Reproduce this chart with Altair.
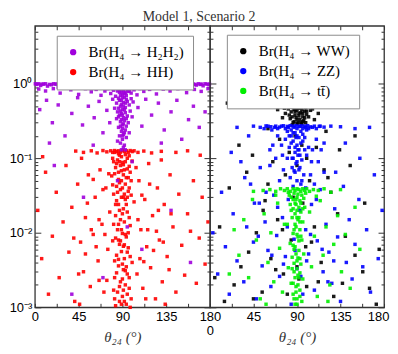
import altair as alt
import pandas as pd

# ---------------- data (theta24 in degrees, branching ratio) ----------------
h2h2_points = [
    (2,0.98),(6,0.95),(9,0.99),(13,0.93),(17,0.97),(21,0.99),(24,0.9),(28,0.96),(32,0.98),(35,0.94),
    (39,0.99),(43,0.92),(46,0.97),(50,0.99),(53,0.95),(57,0.88),(60,0.98),(64,0.96),(67,0.93),(70,0.99),
    (73,0.97),(76,0.94),(79,0.98),(82,0.96),(85,0.99),(88,0.97),(92,0.98),(95,0.95),(98,0.99),(101,0.96),
    (104,0.93),(107,0.98),(110,0.97),(113,0.95),(116,0.99),(119,0.92),(123,0.97),(126,0.99),(130,0.94),(134,0.98),
    (137,0.96),(141,0.9),(144,0.99),(148,0.97),(152,0.95),(155,0.98),(159,0.93),(163,0.99),(166,0.96),(170,0.98),
    (173,0.94),(177,0.99),(179,0.97),
    (0.5,1.0),(4,1.0),(7.5,0.99),(11,1.0),(15,0.98),(19,1.0),(22.5,0.99),(26,1.0),(30,0.98),(33.5,1.0),
    (37,0.99),(41,1.0),(44.5,0.98),(48,1.0),(51.5,0.99),(55,1.0),(58.5,0.97),(62,1.0),(65.5,0.99),(69,1.0),
    (72,0.98),(75,1.0),(78,0.99),(81,1.0),(84,0.98),(87,1.0),(90,0.99),(93.5,1.0),(97,0.98),(100,1.0),
    (103,0.99),(106,1.0),(109,0.98),(112,1.0),(115,0.99),(118,1.0),(121,0.98),(124.5,1.0),(128,0.99),(132,1.0),
    (135.5,0.98),(139,1.0),(142.5,0.99),(146,1.0),(150,0.98),(153.5,1.0),(157,0.99),(161,1.0),(164.5,0.98),(168,1.0),
    (171.5,0.99),(175,1.0),(179.5,0.99),
    (4,0.85),(11,0.8),(19,0.86),(26,0.75),(37,0.83),(45,0.72),(52,0.86),(58,0.78),(63,0.84),(68,0.7),
    (72,0.8),(75,0.86),(78,0.74),(81,0.82),(83,0.68),(86,0.85),(87,0.77),(89,0.88),(90,0.72),(91,0.81),
    (93,0.86),(94,0.7),(96,0.79),(97,0.84),(99,0.75),(102,0.83),(105,0.71),(108,0.86),(112,0.79),(118,0.84),
    (125,0.73),(132,0.85),(139,0.8),(147,0.86),(156,0.76),(164,0.84),(171,0.79),(178,0.86),
    (78,0.9),(80,0.86),(82,0.92),(84,0.88),(85,0.8),(86,0.93),(87,0.83),(88,0.9),(89,0.78),(90,0.92),
    (91,0.85),(92,0.89),(93,0.76),(94,0.91),(95,0.84),(96,0.88),(97,0.8),(98,0.92),(100,0.86),(102,0.9),
    (104,0.87),(76,0.93),(106,0.93),(88,0.7),(92,0.74),(90,0.65),(87,0.6),(94,0.62),(89,0.53),(91,0.5),
    (93,0.55),(86,0.47),(90,0.38),(92,0.45),(88,0.43),(89,0.33),(91,0.29),(90,0.2),(92,0.22),(88,0.27),
    (94,0.34),(86,0.36),
    (80,0.62),(84,0.55),(86,0.64),(88,0.5),(89,0.6),(90,0.45),(91,0.56),(92,0.66),(93,0.48),(95,0.58),
    (97,0.52),(99,0.63),(101,0.57),(85,0.42),(87,0.38),(89,0.4),(91,0.35),(93,0.41),(95,0.37),(88,0.31),
    (90,0.28),(92,0.32),(94,0.27),(86,0.26),(89,0.23),(91,0.21),(93,0.24),(96,0.3),(84,0.34),(98,0.43),
    (82,0.47),(100,0.36),(90,0.18),(88,0.16),(92,0.15),(89,0.13),(91,0.14),(87,0.2),(94,0.19),(85,0.17),
    (93,0.13),(90,0.25),(97,0.22),
    (5,0.45),(12,0.6),(18,0.3),(24,0.52),(31,0.2),(38,0.4),(44,0.65),(49,0.28),(55,0.5),(61,0.35),
    (66,0.58),(70,0.22),(74,0.44),(77,0.3),(106,0.48),(110,0.27),(114,0.62),(120,0.38),(127,0.55),(133,0.24),
    (140,0.42),(146,0.6),(151,0.18),(158,0.33),(163,0.5),(169,0.26),(175,0.42),(60,0.15),(130,0.16),(15,0.16),
    (20,0.08),(50,0.03),(85,0.05),(95,0.012),(110,0.006),(140,0.02),(70,0.0025),(160,0.004),(100,0.09),(38,0.0015),
]

hh_points = [
    (42,0.125),(50,0.12),(58,0.126),(64,0.118),(70,0.127),(74,0.122),(78,0.126),(80,0.12),(82,0.127),(84,0.123),
    (86,0.126),(88,0.121),(90,0.127),(92,0.124),(94,0.126),(96,0.12),(98,0.127),(100,0.123),(102,0.126),(106,0.12),
    (112,0.125),(120,0.118),(130,0.124),(145,0.12),(157,0.126),(170,0.11),(8,0.105),
    (80,0.1),(85,0.095),(90,0.088),(95,0.1),(100,0.092),(88,0.08),(83,0.075),(92,0.07),(97,0.078),(86,0.065),
    (91,0.06),(79,0.058),(94,0.055),(99,0.05),(87,0.047),(84,0.042),(90,0.04),(96,0.036),(81,0.033),(89,0.03),
    (93,0.028),(102,0.026),(86,0.024),(91,0.021),(95,0.019),(83,0.017),(88,0.015),(92,0.014),(98,0.0125),(85,0.011),
    (90,0.0098),(94,0.0088),(80,0.0078),(87,0.007),(96,0.0063),(89,0.0056),(84,0.005),(92,0.0045),(100,0.004),(86,0.0036),
    (91,0.0032),(95,0.0028),(82,0.0025),(88,0.0022),(93,0.002),(97,0.0018),(85,0.0016),(90,0.0014),(87,0.0012),(94,0.0011),
    (83,0.00105),(99,0.0013),(89,0.05),(93,0.09),(87,0.11),(91,0.03),(86,0.008),(94,0.0035),(81,0.0017),(96,0.055),
    (84,0.027),(92,0.0069),(90,0.0024),
    (82,0.12),(86,0.115),(89,0.105),(93,0.112),(97,0.108),(81,0.09),(84,0.085),(87,0.09),(91,0.082),(95,0.072),
    (98,0.065),(82,0.062),(86,0.052),(89,0.068),(93,0.045),(97,0.04),(80,0.044),(85,0.035),(88,0.038),(92,0.033),
    (95,0.03),(99,0.032),(83,0.024),(87,0.02),(90,0.018),(94,0.024),(97,0.016),(81,0.013),(86,0.013),(89,0.011),
    (93,0.0095),(96,0.01),(83,0.0085),(88,0.0078),(91,0.0066),(95,0.0055),(98,0.0048),(82,0.0042),(86,0.0044),(90,0.0038),
    (93,0.0031),(97,0.0025),(84,0.0029),(87,0.0019),(91,0.0017),(95,0.0015),(82,0.0013),(89,0.0011),(92,0.0012),(98,0.001),
    (3,0.02),(7,0.0045),(11,0.065),(14,0.0015),(18,0.009),(22,0.035),(25,0.0025),(29,0.014),(32,0.08),(35,0.0055),
    (38,0.022),(41,0.0012),(44,0.045),(47,0.0075),(50,0.003),(52,0.016),(55,0.06),(57,0.0019),(60,0.0095),(62,0.03),
    (65,0.0042),(67,0.07),(69,0.013),(71,0.0016),(73,0.04),(75,0.006),(77,0.019),(105,0.0028),(107,0.05),(109,0.011),
    (111,0.0018),(113,0.028),(115,0.0065),(117,0.085),(119,0.0034),(121,0.017),(124,0.0013),(126,0.04),(128,0.008),(131,0.0022),
    (133,0.024),(136,0.0048),(139,0.06),(142,0.012),(145,0.0016),(148,0.033),(151,0.0068),(154,0.0027),(157,0.018),(160,0.0105),
    (163,0.05),(166,0.0021),(169,0.0085),(172,0.03),(175,0.0038),(178,0.014),(46,0.0011),(66,0.0023),(112,0.0041),(134,0.0011),
    (58,0.011),(125,0.0105),
    (48,0.1),(54,0.025),(60,0.052),(63,0.0065),(66,0.015),(70,0.038),(72,0.0095),(74,0.0023),(76,0.062),(104,0.075),
    (106,0.015),(108,0.0045),(110,0.032),(114,0.0013),(116,0.011),(118,0.045),(122,0.0058),(127,0.02),(132,0.0075),(138,0.0032),
    (45,0.0028),(52,0.0052),(40,0.0085),(140,0.018),(130,0.095),
]

ww_points = [
    (18,0.55),(30,0.52),(40,0.56),(52,0.5),(60,0.55),(66,0.53),(72,0.57),(76,0.51),(79,0.56),(82,0.54),
    (84,0.57),(86,0.5),(88,0.55),(90,0.57),(92,0.52),(94,0.56),(96,0.54),(98,0.57),(100,0.5),(102,0.55),
    (106,0.53),(112,0.56),(120,0.51),(130,0.55),(140,0.52),(152,0.56),
    (81,0.46),(84,0.42),(86,0.48),(88,0.38),(90,0.44),(92,0.4),(94,0.47),(96,0.36),(98,0.43),(100,0.39),
    (83,0.34),(87,0.31),(89,0.35),(91,0.3),(93,0.33),(95,0.29),(97,0.32),(85,0.28),(99,0.3),(78,0.4),
    (104,0.44),(75,0.35),(108,0.33),(70,0.45),(112,0.4),
    (80,0.52),(83,0.49),(85,0.54),(87,0.45),(89,0.5),(91,0.47),(93,0.53),(95,0.45),(97,0.5),(99,0.48),
    (101,0.52),(82,0.38),(85,0.36),(88,0.42),(90,0.33),(92,0.37),(94,0.41),(96,0.31),(98,0.35),(100,0.43),
    (86,0.3),(90,0.29),(94,0.3),(84,0.5),(92,0.56),(88,0.46),(96,0.4),(102,0.36),(77,0.47),(106,0.46),
    (88,0.2),(95,0.15),(82,0.12),(100,0.1),(72,0.18),(110,0.14),(65,0.09),(118,0.07),(90,0.08),(78,0.06),
    (103,0.05),(60,0.045),(125,0.035),(86,0.03),(96,0.025),(55,0.02),(132,0.018),(70,0.015),(108,0.012),(48,0.01),
    (140,0.009),(84,0.008),(99,0.0065),(40,0.0055),(150,0.005),(63,0.0045),(115,0.004),(32,0.0035),(158,0.003),(76,0.0028),
    (92,0.0024),(25,0.002),(165,0.0018),(54,0.0016),(128,0.0014),(15,0.0012),(172,0.0011),(45,0.0013),(137,0.0021),(68,0.0032),
    (105,0.0075),(57,0.027),(122,0.055),(38,0.065),(145,0.08),(20,0.04),(160,0.025),(10,0.012),(175,0.006),(30,0.15),
    (150,0.2),(5,0.0025),(120,0.23),(60,0.25),(80,0.0015),(100,0.0019),(112,0.0022),(75,0.011),(90,0.0035),(44,0.11),
    (134,0.13),
]

zz_points = [
    (45,0.27),(52,0.26),(58,0.272),(63,0.265),(68,0.27),(72,0.262),(76,0.273),(80,0.268),(83,0.274),(86,0.27),
    (89,0.273),(92,0.266),(95,0.272),(98,0.27),(101,0.274),(104,0.264),(108,0.27),(113,0.268),(118,0.262),(125,0.27),
    (135,0.265),(28,0.26),(150,0.25),(165,0.26),
    (56,0.25),(60,0.27),(64,0.24),(67,0.26),(70,0.25),(74,0.27),(78,0.25),(81,0.26),(84,0.24),(87,0.26),
    (90,0.25),(93,0.27),(96,0.25),(99,0.26),(102,0.25),(106,0.26),(110,0.25),(114,0.27),(82,0.2),(86,0.22),
    (90,0.2),(94,0.23),(98,0.19),(84,0.16),(88,0.14),(92,0.13),(96,0.17),(86,0.1),(90,0.09),(93,0.11),
    (88,0.065),(92,0.07),(95,0.05),(85,0.075),(80,0.1),(100,0.11),(74,0.15),(106,0.13),(68,0.1),(112,0.09),
    (80,0.23),(84,0.2),(88,0.22),(92,0.19),(96,0.21),(100,0.24),(86,0.17),(90,0.15),(94,0.16),(82,0.14),
    (98,0.13),(88,0.12),(91,0.11),(85,0.1),(95,0.095),(89,0.085),(93,0.075),(87,0.068),(97,0.06),(83,0.055),
    (90,0.05),(94,0.045),(86,0.042),(99,0.04),(70,0.2),(110,0.18),(65,0.15),(115,0.13),(75,0.11),(105,0.09),
    (62,0.08),(118,0.065),(72,0.05),(108,0.045),(78,0.18),(102,0.14),(76,0.07),(104,0.06),(91,0.13),(89,0.19),
    (3,0.01),(8,0.0028),(12,0.035),(16,0.0065),(20,0.0015),(24,0.018),(28,0.0042),(32,0.09),(35,0.0022),(38,0.012),
    (42,0.045),(45,0.0075),(48,0.0013),(51,0.025),(54,0.0036),(57,0.014),(60,0.0058),(63,0.0019),(66,0.032),(69,0.0092),
    (72,0.0026),(75,0.016),(78,0.0048),(81,0.028),(84,0.0011),(87,0.0082),(90,0.0033),(93,0.02),(96,0.0015),(99,0.011),
    (102,0.0052),(105,0.024),(108,0.0017),(111,0.0078),(114,0.038),(117,0.003),(120,0.013),(123,0.0055),(126,0.0021),(129,0.021),
    (132,0.0088),(135,0.0012),(138,0.042),(141,0.004),(144,0.015),(147,0.0024),(150,0.007),(154,0.028),(158,0.0035),(162,0.011),
    (166,0.0016),(170,0.06),(174,0.0045),(178,0.02),(22,0.12),(155,0.1),(40,0.2),(140,0.16),
    (50,0.009),(58,0.035),(64,0.005),(70,0.022),(76,0.0038),(80,0.012),(88,0.0058),(94,0.0026),(100,0.0042),(104,0.0095),
    (110,0.028),(116,0.006),(122,0.0022),(128,0.0042),(46,0.025),(36,0.055),(130,0.065),(62,0.13),(118,0.16),(52,0.075),
]

tt_points = [
    (55,0.037),(62,0.038),(68,0.036),(73,0.039),(77,0.037),(80,0.039),(83,0.036),(86,0.039),(88,0.037),(90,0.039),
    (92,0.038),(94,0.036),(96,0.039),(98,0.037),(100,0.039),(103,0.036),(107,0.038),(112,0.037),(118,0.039),(125,0.035),
    (135,0.038),(45,0.036),
    (81,0.035),(84,0.03),(87,0.034),(89,0.028),(91,0.033),(93,0.027),(95,0.032),(97,0.029),(99,0.034),(83,0.024),
    (86,0.021),(88,0.025),(90,0.02),(92,0.022),(94,0.019),(96,0.021),(85,0.016),(88,0.013),(90,0.016),(93,0.014),
    (87,0.011),(90,0.0095),(92,0.0078),(86,0.0068),(89,0.0052),(91,0.0046),(87,0.0039),(90,0.0033),(93,0.0029),(88,0.0025),
    (86,0.0021),(91,0.002),(89,0.0016),(93,0.0014),(87,0.0013),(90,0.0011),
    (82,0.032),(86,0.028),(90,0.03),(94,0.025),(98,0.022),(84,0.02),(88,0.018),(92,0.016),(96,0.014),(80,0.013),
    (89,0.012),(93,0.011),(86,0.0098),(91,0.0088),(95,0.008),(83,0.0072),(88,0.0065),(92,0.0058),(97,0.0052),(85,0.0047),
    (90,0.0042),(94,0.0038),(81,0.0034),(87,0.003),(91,0.0027),(96,0.0024),(84,0.0021),(89,0.0019),(93,0.0017),(86,0.0015),
    (90,0.0013),(95,0.0012),(88,0.0011),(92,0.0025),(87,0.006),(91,0.015),(89,0.024),(93,0.0045),(85,0.0033),(94,0.009),
    (30,0.005),(35,0.015),(40,0.0025),(44,0.028),(48,0.008),(52,0.0013),(56,0.018),(60,0.004),(63,0.01),(66,0.0022),
    (70,0.025),(72,0.0062),(75,0.0016),(77,0.013),(103,0.019),(105,0.0035),(108,0.009),(111,0.0014),(114,0.027),(117,0.005),
    (120,0.012),(124,0.002),(128,0.007),(132,0.017),(136,0.003),(140,0.0095),(145,0.0018),(150,0.022),(25,0.011),(155,0.006),
    (68,0.032),(110,0.031),(58,0.0011),(122,0.0012),(20,0.0028),
]

left_names = ["Br(H₄ → H₂H₂)", "Br(H₄ → HH)"]
left_colors = ["#a000dc", "#ff0000"]
right_names = ["Br(H₄ → WW)", "Br(H₄ → ZZ)", "Br(H₄ → tt\u0304)"]
right_colors = ["#000000", "#0000ff", "#00ee00"]

x_label_values = [0, 45, 90, 135, 180]
x_tick_values = [0, 22.5, 45, 67.5, 90, 112.5, 135, 157.5, 180]
y_label_values = [0.001, 0.01, 0.1, 1]
y_minor_mult = [2, 3, 4, 5, 6, 7, 8, 9]
y_domain = [0.001, 6]
title_text = "Model 1, Scenario 2"
x_title = "θ₂₄ (°)"

H = 283
y_tick_values = list(y_label_values) + [round(m * d, 6) for d in y_label_values for m in y_minor_mult if m * d < 6]


def make_df(groups):
    rows = []
    for name, pts in groups:
        for t, b in pts:
            rows.append({"theta": t, "br": b, "series": name})
    return pd.DataFrame(rows)


left_df = make_df([(left_names[1], hh_points), (left_names[0], h2h2_points)])
right_df = make_df([(right_names[0], ww_points), (right_names[1], zz_points), (right_names[2], tt_points)])

major_test = "indexof([0.001, 0.01, 0.1, 1], datum.value) >= 0"


def panel(df, names, colors, lx, ly, left_side, W):
    xs = alt.Scale(domain=[0, 180], nice=False, zero=False)
    ys = alt.Scale(type="log", domain=y_domain, nice=False)
    x_kw = dict(
        values=x_label_values, ticks=False, domain=False, grid=False, title=x_title,
        labelFlush=False, labelOverlap=False, labelFont="Liberation Sans", labelFontSize=13,
        labelColor="black", labelPadding=3,
        titleFont="Liberation Serif", titleFontSize=15, titleFontWeight="normal", titleFontStyle="italic",
        titleColor="#333", titleBaseline="alphabetic", titleY=34,
    )
    if not left_side:
        x_kw["labelPadding"] = {"condition": {"test": "datum.value == 0", "value": 17}, "value": 3}
        x_kw["labelOffset"] = {"condition": {"test": "datum.value == 180", "value": -6}, "value": 0}
    x_axis = alt.Axis(**x_kw)
    y_axis = alt.Axis(
        values=y_label_values, ticks=False, domain=False, grid=False, title=None,
        labelOverlap=False, labelFont="Liberation Sans", labelFontSize=13, labelColor="black", labelPadding=3,
        labelExpr="datum.value == 1 ? '10⁰' : datum.value == 0.1 ? '10⁻¹' : datum.value == 0.01 ? '10⁻²' : '10⁻³'",
    ) if left_side else None

    pts = alt.Chart(df).mark_square(size=12, opacity=0.9).encode(
        x=alt.X("theta:Q", scale=xs, axis=x_axis),
        y=alt.Y("br:Q", scale=ys, axis=y_axis),
        color=alt.Color(
            "series:N",
            scale=alt.Scale(domain=names, range=colors),
            legend=alt.Legend(
                title=None, orient="none", legendX=lx, legendY=ly,
                fillColor="white", strokeColor="#8c8c8c", padding=9,
                labelFont="Liberation Serif", labelFontSize=15, labelColor="black", labelOffset=8,
                symbolType="circle", symbolSize=40, symbolOpacity=1, symbolStrokeWidth=0,
                rowPadding=4,
            ),
        ),
    )

    tick_common = dict(labels=False, domain=False, grid=False, title=None, tickColor="#333", tickWidth=1)
    y_tick_size = {"condition": {"test": major_test, "value": 6}, "value": 3}

    inner_a = alt.Chart(df).mark_point(opacity=0).encode(
        x=alt.X("theta:Q", scale=xs, axis=alt.Axis(orient="top", offset=-H, values=x_tick_values, tickSize=4, **tick_common)),
        y=alt.Y("br:Q", scale=ys, axis=alt.Axis(orient="right", offset=-W, values=y_tick_values, tickSize=y_tick_size, **tick_common)),
    )
    inner_b = alt.Chart(df).mark_point(opacity=0).encode(
        x=alt.X("theta:Q", scale=xs, axis=alt.Axis(orient="bottom", offset=-H, values=x_tick_values, tickSize=4, **tick_common)),
        y=alt.Y("br:Q", scale=ys, axis=alt.Axis(orient="left", offset=-W, values=y_tick_values, tickSize=y_tick_size, **tick_common)),
    )
    return alt.layer(pts, inner_a, inner_b).resolve_axis(x="independent", y="independent").properties(width=W, height=H)


left = panel(left_df, left_names, left_colors, 22, 10, True, 176)
right = panel(right_df, right_names, right_colors, 17, 9, False, 175)

chart = alt.hconcat(left, right, spacing=0, bounds="flush").resolve_scale(color="independent").properties(
    title=alt.TitleParams(title_text, font="Liberation Serif", fontSize=14, fontWeight="normal",
                          color="#333", anchor="middle", offset=1),
    padding={"left": 0, "top": 0, "right": 0, "bottom": 0},
).configure_view(stroke="#333", strokeWidth=1.3)

chart.save("out.html", embed_options={"renderer": "svg", "actions": False})
